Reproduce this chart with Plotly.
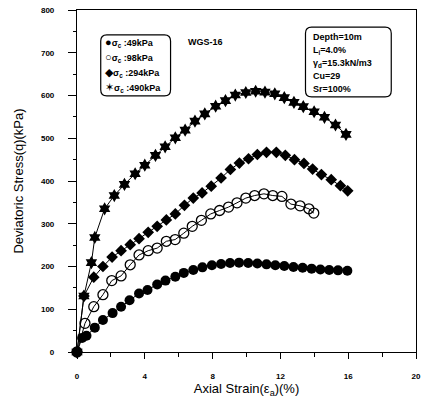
import plotly.graph_objects as go

# Axial strain (%) and deviatoric stress (kPa) for each confining pressure
strain_49 = [0, 0.3, 0.56, 1.05, 1.53, 2.1, 2.6, 3.1, 3.66, 4.16, 4.73, 5.22, 5.8, 6.3,
             6.86, 7.4, 7.96, 8.5, 9.03, 9.56, 10.1, 10.64, 11.18, 11.7, 12.23, 12.77,
             13.31, 13.84, 14.36, 14.88, 15.4, 15.95]
stress_49 = [0, 33, 38, 57, 75, 91, 106, 121, 137, 145, 158, 167, 176, 185,
             192, 198, 203, 206, 208, 209, 208, 207, 205, 203, 201, 199,
             197, 195, 193, 192, 191, 190]

strain_98 = [0, 0.47, 0.99, 1.53, 2.05, 2.6, 3.14, 3.66, 4.2, 4.73, 5.27, 5.79, 6.3, 6.8,
             7.34, 7.89, 8.41, 8.94, 9.44, 9.96, 10.48, 11.03, 11.55, 12.09, 12.62,
             13.16, 13.68, 13.97]
stress_98 = [0, 67, 106, 134, 167, 178, 204, 227, 237, 243, 259, 263, 278, 294,
             308, 323, 331, 339, 349, 360, 366, 370, 366, 364, 346,
             342, 335, 325]

strain_294 = [0, 0.41, 0.99, 1.53, 2.07, 2.6, 3.14, 3.66, 4.2, 4.73, 5.27, 5.8, 6.34,
              6.86, 7.38, 7.92, 8.5, 9.05, 9.58, 10.12, 10.64, 11.18, 11.76, 12.29,
              12.83, 13.39, 13.9, 14.42, 15.0, 15.54, 15.97]
stress_294 = [0, 131, 175, 200, 222, 237, 251, 265, 280, 294, 309, 323, 343,
              360, 372, 388, 407, 427, 442, 452, 462, 467, 467, 460,
              450, 441, 428, 415, 403, 389, 377]

strain_490 = [0, 0.41, 0.85, 1.05, 1.63, 2.2, 2.8, 3.43, 4.0, 4.63, 5.2, 5.8, 6.38,
              6.96, 7.54, 8.18, 8.76, 9.34, 9.96, 10.54, 11.09, 11.67, 12.23, 12.8,
              13.35, 13.99, 14.6, 15.25, 15.87]
stress_490 = [0, 131, 209, 268, 335, 366, 392, 417, 437, 460, 480, 501, 519,
              540, 557, 575, 588, 601, 607, 610, 608, 604, 595, 584,
              574, 562, 549, 531, 509]

legend_labels = ["σ<sub>c</sub> :49kPa", "σ<sub>c</sub> :98kPa",
                 "σ<sub>c</sub> :294kPa", "σ<sub>c</sub> :490kPa"]
legend_glyphs = ["●", "○", "◆", "✶"]

x_ticks = [0, 4, 8, 12, 16, 20]
y_ticks = [0, 100, 200, 300, 400, 500, 600, 700, 800]

sample_id = "WGS-16"
soil_props = ["Depth=10m", "L<sub>i</sub>=4.0%", "γ<sub>d</sub>=15.3kN/m3",
              "Cu=29", "Sr=100%"]

FONT = "Liberation Sans, Arial, sans-serif"
BLACK = "#000000"

series = [
    (strain_49, stress_49, dict(symbol="circle", size=10, color=BLACK)),
    (strain_98, stress_98, dict(symbol="circle-open", size=10, color=BLACK,
                                line=dict(width=1.3, color=BLACK))),
    (strain_294, stress_294, dict(symbol="diamond", size=9, color=BLACK)),
    (strain_490, stress_490, dict(symbol="hexagram", size=10, color=BLACK)),
]

fig = go.Figure()
for (xs, ys, mk), name in zip(series, legend_labels):
    fig.add_trace(go.Scatter(
        x=xs, y=ys, mode="lines+markers", name=name,
        line=dict(color=BLACK, width=1), marker=mk,
        cliponaxis=False, showlegend=False,
    ))

# Rounded frames for the legend block and the soil property block
def rounded_box(x0, y0, x1, y1, rx=0.018, ry=0.018):
    return (f"M {x0+rx},{y0} L {x1-rx},{y0} Q {x1},{y0} {x1},{y0+ry} "
            f"L {x1},{y1-ry} Q {x1},{y1} {x1-rx},{y1} L {x0+rx},{y1} "
            f"Q {x0},{y1} {x0},{y1-ry} L {x0},{y0+ry} Q {x0},{y0} {x0+rx},{y0} Z")

shapes = [
    dict(type="path", xref="paper", yref="paper",
         path=rounded_box(0.070, 0.749, 0.276, 0.927),
         line=dict(color=BLACK, width=1.2)),
    dict(type="path", xref="paper", yref="paper",
         path=rounded_box(0.674, 0.746, 0.927, 0.950),
         line=dict(color=BLACK, width=1.2)),
]

annotations = []
for i, (g, lab) in enumerate(zip(legend_glyphs, legend_labels)):
    annotations.append(dict(
        xref="paper", yref="paper", x=0.076, y=0.905 - i * 0.044,
        xanchor="left", yanchor="middle", showarrow=False,
        text=f"<span style='font-size:11px'>{g}</span><b>{lab}</b>",
        font=dict(family=FONT, size=9, color=BLACK),
    ))

annotations.append(dict(
    xref="paper", yref="paper", x=0.38, y=0.905, xanchor="center",
    yanchor="middle", showarrow=False, text=f"<b>{sample_id}</b>",
    font=dict(family=FONT, size=9, color=BLACK),
))

for i, line in enumerate(soil_props):
    annotations.append(dict(
        xref="paper", yref="paper", x=0.690, y=0.920 - i * 0.038,
        xanchor="left", yanchor="middle", showarrow=False,
        text=f"<b>{line}</b>", font=dict(family=FONT, size=9, color=BLACK),
    ))

fig.update_layout(
    width=426, height=409,
    margin=dict(l=77, r=5, t=10, b=57),
    paper_bgcolor="white", plot_bgcolor="white",
    font=dict(family=FONT, color=BLACK),
    showlegend=False,
    shapes=shapes, annotations=annotations,
)

fig.update_xaxes(
    range=[0, 20], tickvals=x_ticks, ticktext=[str(v) for v in x_ticks],
    ticks="outside", ticklen=6, tickwidth=1, tickcolor=BLACK,
    minor=dict(dtick=2, ticks="outside", ticklen=4, tickcolor=BLACK),
    showline=True, linecolor=BLACK, linewidth=1.2, mirror=True,
    showgrid=False, zeroline=False,
    tickfont=dict(family=FONT, size=8, color=BLACK, weight="bold"),
    ticklabelstandoff=10,
    title=dict(text="Axial Strain(ε<sub>a</sub>)(%)",
               font=dict(family=FONT, size=13, color=BLACK), standoff=4),
)
fig.update_yaxes(
    range=[0, 800], tickvals=y_ticks, ticktext=[str(v) for v in y_ticks],
    ticks="outside", ticklen=8, tickwidth=1, tickcolor=BLACK,
    minor=dict(dtick=50, ticks="outside", ticklen=3, tickcolor=BLACK),
    showline=True, linecolor=BLACK, linewidth=1.2, mirror=True,
    showgrid=False, zeroline=False,
    tickfont=dict(family=FONT, size=8, color=BLACK, weight="bold"),
    ticklabelstandoff=12,
    title=dict(text="Deviatoric Stress(q)(kPa)",
               font=dict(family=FONT, size=13, color=BLACK), standoff=14),
)

fig.write_html("out.html")
